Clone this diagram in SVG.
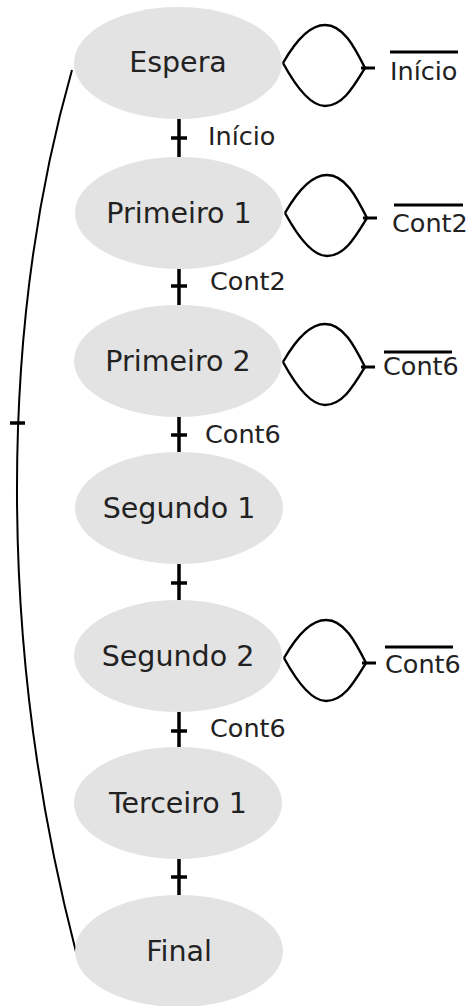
<svg xmlns="http://www.w3.org/2000/svg" width="470" height="1006" viewBox="0 0 470 1006">
<style>
.node ellipse{fill:#e3e3e3;stroke:none}
.node text{font-family:"DejaVu Sans",sans-serif;font-size:28.5px;fill:#222;text-anchor:middle}
.lbl{font-family:"DejaVu Sans",sans-serif;font-size:25.5px;fill:#222}
.v{stroke:#000;stroke-width:3.5;fill:none}
.tick{stroke:#000;stroke-width:3.5}
.loop{stroke:#000;stroke-width:2.4;fill:none}
.stub{stroke:#000;stroke-width:3}
.ol{stroke:#000;stroke-width:3}
.arc{stroke:#000;stroke-width:2;fill:none}
</style>
<defs>
<g id="lp">
<path class="loop" d="M0 0 C12 -21 27 -38 42 -38 C60 -38 71 -17 82 5 M0 0 C12 22 27 43 42 43 C60 43 71 23 82 5"/>
<line class="stub" x1="78" y1="5" x2="92" y2="5"/>
</g>
</defs>
<g id="connectors">
<path class="arc" d="M72 70 C-2 330 -2 650 76 952"/>
<line class="tick" x1="10" y1="423" x2="25" y2="423"/>
<line class="v" x1="179" y1="119" x2="179" y2="157"/>
<line class="tick" x1="171" y1="138" x2="187" y2="138"/>
<line class="v" x1="179" y1="268" x2="179" y2="305"/>
<line class="tick" x1="171" y1="286" x2="187" y2="286"/>
<line class="v" x1="179" y1="417" x2="179" y2="452"/>
<line class="tick" x1="171" y1="435" x2="187" y2="435"/>
<line class="v" x1="179" y1="564" x2="179" y2="600"/>
<line class="tick" x1="171" y1="583" x2="187" y2="583"/>
<line class="v" x1="179" y1="712" x2="179" y2="747"/>
<line class="tick" x1="171" y1="731" x2="187" y2="731"/>
<line class="v" x1="179" y1="859" x2="179" y2="895"/>
<line class="tick" x1="171" y1="877" x2="187" y2="877"/>
<use href="#lp" x="283" y="63"/>
<use href="#lp" x="285" y="213"/>
<use href="#lp" x="283" y="362"/>
<use href="#lp" x="284" y="658"/>
<line class="ol" x1="390" y1="52" x2="458" y2="52"/>
<line class="ol" x1="394" y1="205" x2="463" y2="205"/>
<line class="ol" x1="384" y1="352" x2="452" y2="352"/>
<line class="ol" x1="385" y1="647" x2="453" y2="647"/>
<text class="lbl" x="390" y="80">Início</text>
<text class="lbl" x="392" y="232">Cont2</text>
<text class="lbl" x="383" y="375">Cont6</text>
<text class="lbl" x="385" y="673">Cont6</text>
<text class="lbl" x="208" y="145">Início</text>
<text class="lbl" x="210" y="290">Cont2</text>
<text class="lbl" x="205" y="443">Cont6</text>
<text class="lbl" x="210" y="737">Cont6</text>
</g>
<g id="espera" class="node"><ellipse cx="178" cy="63" rx="104" ry="56"/><text x="178" y="72">Espera</text></g>
<g id="primeiro1" class="node"><ellipse cx="179" cy="213" rx="104" ry="56"/><text x="179" y="223">Primeiro 1</text></g>
<g id="primeiro2" class="node"><ellipse cx="178" cy="361" rx="104" ry="56"/><text x="178" y="371">Primeiro 2</text></g>
<g id="segundo1" class="node"><ellipse cx="179" cy="508" rx="104" ry="56"/><text x="179" y="518">Segundo 1</text></g>
<g id="segundo2" class="node"><ellipse cx="178" cy="656" rx="104" ry="56"/><text x="178" y="666">Segundo 2</text></g>
<g id="terceiro1" class="node"><ellipse cx="178" cy="803" rx="104" ry="56"/><text x="178" y="813">Terceiro 1</text></g>
<g id="final" class="node"><ellipse cx="179" cy="951" rx="104" ry="56"/><text x="179" y="961">Final</text></g>
</svg>
